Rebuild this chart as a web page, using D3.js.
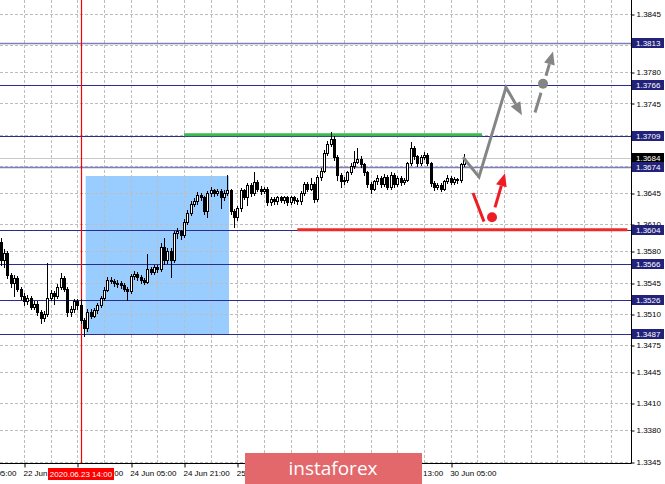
<!DOCTYPE html>
<html>
<head>
<meta charset="utf-8">
<script src="https://cdn.jsdelivr.net/npm/d3@7/dist/d3.min.js"></script>
<style>
  body { margin: 0; background: #fff; }
  svg { display: block; font-family: "Liberation Sans", Arial, sans-serif; }
</style>
</head>
<body>
<script>
// H1 bars, index 0 = 22 Jun 21:00
var firstBar = -7;

var barOpen = [1.3590,1.3570,1.3578,1.3553,1.3545,1.3550,1.3538,1.3530,1.3524,1.3528,1.3518,1.3521,1.3512,1.3505,1.3510,1.3528,1.3533,1.3530,1.3540,1.3550,
  1.3538,1.3512,1.3515,1.3524,1.3520,1.3503,1.3494,1.3512,1.3508,1.3514,1.3520,1.3528,1.3537,1.3548,1.3547,1.3545,1.3544,1.3542,1.3538,1.3535,
  1.3552,1.3555,1.3551,1.3548,1.3546,1.3560,1.3557,1.3562,1.3560,1.3585,1.3570,1.3580,1.3570,1.3600,1.3602,1.3598,1.3613,1.3623,1.3633,1.3636,
  1.3643,1.3640,1.3625,1.3645,1.3648,1.3645,1.3647,1.3640,1.3645,1.3648,1.3625,1.3618,1.3628,1.3648,1.3641,1.3654,1.3645,1.3657,1.3650,1.3647,
  1.3650,1.3635,1.3638,1.3636,1.3640,1.3637,1.3640,1.3635,1.3640,1.3637,1.3636,1.3645,1.3655,1.3650,1.3655,1.3638,1.3663,1.3670,1.3690,1.3700,
  1.3705,1.3685,1.3665,1.3658,1.3660,1.3668,1.3675,1.3680,1.3683,1.3677,1.3668,1.3655,1.3650,1.3658,1.3662,1.3655,1.3663,1.3652,1.3665,1.3655,
  1.3662,1.3657,1.3660,1.3678,1.3695,1.3686,1.3678,1.3685,1.3688,1.3678,1.3656,1.3652,1.3654,1.3650,1.3658,1.3662,1.3657,1.3661,1.3659,1.3677];

var barHigh = [1.3595,1.3582,1.3580,1.3556,1.3553,1.3552,1.3540,1.3533,1.3531,1.3530,1.3524,1.3524,1.3514,1.3513,1.3567,1.3537,1.3536,1.3543,1.3556,1.3552,
  1.3540,1.3519,1.3527,1.3527,1.3527,1.3505,1.3515,1.3515,1.3517,1.3522,1.3530,1.3540,1.3551,1.3551,1.3549,1.3548,1.3547,1.3544,1.3540,1.3555,
  1.3558,1.3557,1.3553,1.3550,1.3577,1.3562,1.3565,1.3564,1.3589,1.3595,1.3584,1.3583,1.3603,1.3606,1.3604,1.3616,1.3626,1.3636,1.3639,1.3646,
  1.3645,1.3642,1.3647,1.3652,1.3650,1.3650,1.3649,1.3648,1.3665,1.3650,1.3627,1.3631,1.3651,1.3650,1.3656,1.3656,1.3668,1.3659,1.3653,1.3652,
  1.3652,1.3641,1.3640,1.3642,1.3642,1.3642,1.3642,1.3642,1.3642,1.3639,1.3647,1.3657,1.3657,1.3662,1.3657,1.3665,1.3673,1.3693,1.3703,1.3713,
  1.3709,1.3687,1.3667,1.3663,1.3670,1.3678,1.3692,1.3695,1.3686,1.3679,1.3670,1.3657,1.3660,1.3665,1.3664,1.3666,1.3665,1.3668,1.3667,1.3664,
  1.3664,1.3662,1.3680,1.3702,1.3697,1.3688,1.3687,1.3691,1.3690,1.3680,1.3658,1.3656,1.3656,1.3660,1.3665,1.3664,1.3663,1.3662,1.3679,1.3689];

var barLow = [1.3565,1.3562,1.3550,1.3540,1.3530,1.3535,1.3527,1.3520,1.3521,1.3515,1.3515,1.3509,1.3500,1.3502,1.3508,1.3525,1.3521,1.3528,1.3538,1.3535,
  1.3508,1.3508,1.3512,1.3515,1.3500,1.3485,1.3491,1.3505,1.3506,1.3511,1.3518,1.3526,1.3535,1.3544,1.3541,1.3540,1.3539,1.3535,1.3525,1.3533,
  1.3549,1.3548,1.3545,1.3543,1.3544,1.3554,1.3555,1.3557,1.3558,1.3566,1.3567,1.3551,1.3568,1.3595,1.3594,1.3596,1.3610,1.3620,1.3630,1.3633,
  1.3637,1.3621,1.3618,1.3642,1.3642,1.3643,1.3628,1.3637,1.3643,1.3622,1.3607,1.3615,1.3625,1.3638,1.3632,1.3642,1.3643,1.3647,1.3644,1.3645,
  1.3632,1.3632,1.3633,1.3633,1.3635,1.3634,1.3632,1.3633,1.3634,1.3633,1.3633,1.3643,1.3647,1.3648,1.3635,1.3636,1.3660,1.3668,1.3688,1.3697,
  1.3682,1.3660,1.3652,1.3655,1.3657,1.3666,1.3673,1.3678,1.3674,1.3665,1.3652,1.3645,1.3648,1.3655,1.3652,1.3653,1.3649,1.3650,1.3652,1.3653,
  1.3654,1.3655,1.3658,1.3676,1.3683,1.3675,1.3676,1.3683,1.3676,1.3653,1.3648,1.3650,1.3647,1.3648,1.3656,1.3655,1.3655,1.3656,1.3657,1.3675];

var barClose = [1.3570,1.3578,1.3553,1.3545,1.3550,1.3538,1.3530,1.3524,1.3528,1.3518,1.3521,1.3512,1.3505,1.3510,1.3528,1.3533,1.3530,1.3540,1.3550,1.3538,
  1.3512,1.3515,1.3524,1.3520,1.3503,1.3494,1.3512,1.3508,1.3514,1.3520,1.3528,1.3537,1.3548,1.3547,1.3545,1.3544,1.3542,1.3538,1.3535,1.3552,
  1.3555,1.3551,1.3548,1.3546,1.3560,1.3557,1.3562,1.3560,1.3585,1.3570,1.3580,1.3570,1.3600,1.3602,1.3598,1.3613,1.3623,1.3633,1.3636,1.3643,
  1.3640,1.3625,1.3645,1.3648,1.3645,1.3647,1.3640,1.3645,1.3648,1.3625,1.3618,1.3628,1.3648,1.3641,1.3654,1.3645,1.3657,1.3650,1.3647,1.3650,
  1.3635,1.3638,1.3636,1.3640,1.3637,1.3640,1.3635,1.3640,1.3637,1.3636,1.3645,1.3655,1.3650,1.3655,1.3638,1.3663,1.3670,1.3690,1.3700,1.3705,
  1.3685,1.3665,1.3658,1.3660,1.3668,1.3675,1.3680,1.3683,1.3677,1.3668,1.3655,1.3650,1.3658,1.3662,1.3655,1.3663,1.3652,1.3665,1.3655,1.3662,
  1.3657,1.3660,1.3678,1.3695,1.3686,1.3678,1.3685,1.3688,1.3678,1.3656,1.3652,1.3654,1.3650,1.3658,1.3662,1.3657,1.3661,1.3659,1.3677,1.3684];

// time axis labels (every 16 bars)
var timeTicks = [-16, 0, 16, 32, 48, 64, 80, 96, 112, 128];
var timeLabels = ["22 Jun 05:00", "22 Jun 21:00", "23 Jun 13:00", "24 Jun 05:00", "24 Jun 21:00",
  "25 Jun 13:00", "26 Jun 05:00", "26 Jun 21:00", "29 Jun 13:00", "30 Jun 05:00"];

// price axis
var priceTicks = [1.3845, 1.3810, 1.3780, 1.3745, 1.3710, 1.3675, 1.3645, 1.3610, 1.3580,
  1.3545, 1.3510, 1.3475, 1.3445, 1.3410, 1.3380, 1.3345];
var levels = [1.3813, 1.3766, 1.3709, 1.3674, 1.3604, 1.3566, 1.3526, 1.3487];
var lightLevels = [1.3813, 1.3674];
var bid = 1.3684;

// crosshair
var crossBar = 17;
var crossLabel = "2020.06.23 14:00";

// drawn objects
var boxBars = [18.5, 61.5];
var boxPrices = [1.3664, 1.3487];
var greenLine = { bars: [48, 137.4], price: 1.3710 };
var redLine = { bars: [82, 181], price: 1.3604 };
var grayZig = [[131.7, 1.3685], [136.5, 1.3663], [144.6, 1.3763], [149.4, 1.3732]];
var grayDash = [[153.3, 1.3735], [155.1, 1.3757]];
var grayDot = [155.7, 1.3767];
var grayUp = [[156.6, 1.3776], [158.7, 1.3803]];
var redDown = [[134.7, 1.3645], [138.0, 1.3613]];
var redDot = [140.4, 1.3618];
var redUp = [[141.3, 1.3629], [144.3, 1.3667]];

var svgWidth = 665, svgHeight = 484;
var plotRight = 631, plotBottom = 463;

var svg = d3.select("body").append("svg")
  .attr("width", svgWidth)
  .attr("height", svgHeight);

var x = d3.scaleLinear().domain([0, 128]).range([24, 24 + 128 * 10 / 3]);
var y = d3.scaleLinear().domain([1.3345, 1.3845]).range([461.5, 14]);

svg.append("defs").append("clipPath").attr("id", "plot")
  .append("rect").attr("x", 0).attr("y", 0).attr("width", plotRight).attr("height", plotBottom);

var chart = svg.append("g").attr("clip-path", "url(#plot)");

// rectangle behind everything
chart.append("rect")
  .attr("x", x(boxBars[0]))
  .attr("y", y(boxPrices[0]))
  .attr("width", x(boxBars[1]) - x(boxBars[0]))
  .attr("height", y(boxPrices[1]) - y(boxPrices[0]))
  .attr("fill", "#99ccff");

// grid
var crisp = function (v) { return Math.round(v) + 0.5; };
chart.selectAll(".hgrid").data(priceTicks).enter().append("line")
  .attr("x1", 0).attr("x2", plotRight)
  .attr("y1", function (d) { return crisp(y(d)); })
  .attr("y2", function (d) { return crisp(y(d)); })
  .attr("stroke", "#bdbdbd").attr("stroke-dasharray", "3,2");

chart.selectAll(".vgrid").data(d3.range(0, 184, 8)).enter().append("line")
  .attr("y1", 0).attr("y2", plotBottom)
  .attr("x1", function (d) { return crisp(x(d)); })
  .attr("x2", function (d) { return crisp(x(d)); })
  .attr("stroke", "#bdbdbd").attr("stroke-dasharray", "3,2");

// level lines
chart.selectAll(".level").data(levels).enter().append("line")
  .attr("x1", 0).attr("x2", plotRight)
  .attr("y1", function (d) { return crisp(y(d)); })
  .attr("y2", function (d) { return crisp(y(d)); })
  .attr("stroke", function (d) { return lightLevels.indexOf(d) >= 0 ? "#7e7eb8" : "#2c2c90"; })
  .attr("stroke-width", function (d) { return lightLevels.indexOf(d) >= 0 ? 1.5 : 1; });

chart.append("line")
  .attr("x1", 0).attr("x2", plotRight)
  .attr("y1", crisp(y(bid))).attr("y2", crisp(y(bid)))
  .attr("stroke", "#c8c8c8");

// green and red horizontal segments
chart.append("line")
  .attr("x1", x(greenLine.bars[0])).attr("x2", x(greenLine.bars[1]))
  .attr("y1", y(greenLine.price)).attr("y2", y(greenLine.price))
  .attr("stroke", "#3cb94f").attr("stroke-width", 3);

chart.append("line")
  .attr("x1", x(redLine.bars[0])).attr("x2", x(redLine.bars[1]))
  .attr("y1", y(redLine.price)).attr("y2", y(redLine.price))
  .attr("stroke", "#ee2a2a").attr("stroke-width", 3);

// crosshair
chart.append("line")
  .attr("x1", crisp(x(crossBar))).attr("x2", crisp(x(crossBar)))
  .attr("y1", 0).attr("y2", plotBottom)
  .attr("stroke", "#ff0000")
  .attr("stroke-width", 1.2);

// candles
var bars = d3.range(barClose.length).map(function (k) {
  return { i: firstBar + k, o: barOpen[k], h: barHigh[k], l: barLow[k], c: barClose[k] };
});

var candle = chart.selectAll(".candle").data(bars).enter().append("g");

candle.append("line")
  .attr("x1", function (d) { return Math.round(x(d.i)) + 0.5; })
  .attr("x2", function (d) { return Math.round(x(d.i)) + 0.5; })
  .attr("y1", function (d) { return Math.round(y(d.h)); })
  .attr("y2", function (d) { return Math.round(y(d.l)) + 1; })
  .attr("stroke", "#000");

candle.append("rect")
  .attr("x", function (d) { return d.c >= d.o ? Math.round(x(d.i)) - 0.5 : Math.round(x(d.i)) - 1; })
  .attr("y", function (d) {
    var t = Math.round(y(Math.max(d.o, d.c)));
    return d.c >= d.o ? t + 0.5 : t;
  })
  .attr("width", function (d) { return d.c >= d.o ? 2 : 3; })
  .attr("height", function (d) {
    var h = Math.max(1, Math.round(y(Math.min(d.o, d.c))) - Math.round(y(Math.max(d.o, d.c))));
    return d.c >= d.o ? h : h + 1;
  })
  .attr("fill", function (d) { return d.c >= d.o ? "#fff" : "#000"; })
  .attr("stroke", function (d) { return d.c >= d.o ? "#000" : "none"; });

// forecast arrows
var line = d3.line()
  .x(function (d) { return x(d[0]); })
  .y(function (d) { return y(d[1]); });

function arrowHead(pts, color) {
  var a = pts[pts.length - 2], b = pts[pts.length - 1];
  var x1 = x(a[0]), y1 = y(a[1]), x2 = x(b[0]), y2 = y(b[1]);
  var ang = Math.atan2(y2 - y1, x2 - x1);
  var len = 13, half = 5.5;
  var bx = x2 - len * Math.cos(ang), by = y2 - len * Math.sin(ang);
  var px = -Math.sin(ang) * half, py = Math.cos(ang) * half;
  chart.append("path")
    .attr("d", "M" + x2 + "," + y2 + "L" + (bx + px) + "," + (by + py) + "L" + (bx - px) + "," + (by - py) + "Z")
    .attr("fill", color);
  return [bx, by];
}

function arrow(pts, color) {
  var base = arrowHead(pts, color);
  var p = pts.slice(0, -1).map(function (d) { return [x(d[0]), y(d[1])]; });
  p.push(base);
  chart.append("path")
    .attr("d", d3.line()(p))
    .attr("fill", "none").attr("stroke", color).attr("stroke-width", 3)
    .attr("stroke-linejoin", "miter");
}

var gray = "#858585", red = "#ee1d25";
arrow(grayZig, gray);
chart.append("path").attr("d", line(grayDash))
  .attr("fill", "none").attr("stroke", gray).attr("stroke-width", 3);
chart.append("circle").attr("cx", x(grayDot[0])).attr("cy", y(grayDot[1])).attr("r", 5).attr("fill", gray);
arrow(grayUp, gray);

chart.append("path").attr("d", line(redDown))
  .attr("fill", "none").attr("stroke", red).attr("stroke-width", 3);
chart.append("circle").attr("cx", x(redDot[0])).attr("cy", y(redDot[1])).attr("r", 5).attr("fill", red);
arrow(redUp, red);

// axes
var axisFont = "8px";

var rightAxis = d3.axisRight(y)
  .tickValues(priceTicks)
  .tickFormat(d3.format(".4f"))
  .tickSize(3)
  .tickPadding(2);

var ra = svg.append("g")
  .attr("transform", "translate(" + (plotRight + 0.5) + ",0)")
  .call(rightAxis);
ra.select(".domain").remove();
ra.selectAll("line").attr("stroke", "#000")
  .attr("transform", function (d) { return "translate(0," + (crisp(y(d)) - y(d)) + ")"; });
ra.selectAll("text").style("font-size", axisFont).attr("fill", "#000");

var bottomAxis = d3.axisBottom(x)
  .tickValues(timeTicks)
  .tickFormat(function (d, k) { return timeLabels[k]; })
  .tickSize(4);

var ba = svg.append("g")
  .attr("transform", "translate(0," + (plotBottom + 0.5) + ")")
  .call(bottomAxis);
ba.select(".domain").remove();
ba.selectAll("line").attr("stroke", "#000")
  .attr("transform", function (d) { return "translate(" + (crisp(x(d)) - x(d)) + ",0)"; });
ba.selectAll("text")
  .attr("text-anchor", "start")
  .attr("x", -1).attr("y", 7).attr("dy", "0.71em")
  .style("font-size", axisFont).attr("fill", "#000");

svg.append("line")
  .attr("x1", 0).attr("x2", plotRight + 0.5)
  .attr("y1", plotBottom + 0.5).attr("y2", plotBottom + 0.5)
  .attr("stroke", "#000");
svg.append("line")
  .attr("x1", plotRight + 0.5).attr("x2", plotRight + 0.5)
  .attr("y1", 0).attr("y2", plotBottom + 0.5)
  .attr("stroke", "#000");

// price tags for levels
var tagData = levels.map(function (d) { return { p: d, bg: "#22227a" }; });
tagData.splice(3, 0, { p: bid, bg: "#000" });

var tags = svg.selectAll(".tag").data(tagData).enter().append("g")
  .attr("transform", function (d) { return "translate(" + (plotRight + 1) + "," + Math.round(y(d.p)) + ")"; });
tags.append("rect")
  .attr("x", 0).attr("y", -5).attr("width", 32).attr("height", 10)
  .attr("fill", function (d) { return d.bg; });
tags.append("text")
  .attr("x", 4).attr("y", 0).attr("dy", "0.35em")
  .style("font-size", axisFont).attr("fill", "#fff")
  .text(function (d) { return d3.format(".4f")(d.p); });

// crosshair time tag
var ct = svg.append("g").attr("transform", "translate(" + Math.round(x(crossBar)) + "," + (plotBottom + 5) + ")");
ct.append("rect").attr("x", -33).attr("y", 0).attr("width", 66).attr("height", 12).attr("fill", "#ff0000");
ct.append("text").attr("x", 0).attr("y", 6).attr("dy", "0.35em")
  .attr("text-anchor", "middle")
  .style("font-size", axisFont).attr("fill", "#fff")
  .text(crossLabel);

// watermark
var logo = svg.append("g");
logo.append("rect")
  .attr("x", 245).attr("y", 453).attr("width", 177).attr("height", 31)
  .attr("fill", "#e2686c");
logo.append("text")
  .attr("x", 333).attr("y", 475)
  .attr("text-anchor", "middle")
  .style("font-family", "'Open Sans', sans-serif")
  .style("font-size", "19px")
  .attr("fill", "#fff")
  .text("instaforex");
</script>
</body>
</html>
